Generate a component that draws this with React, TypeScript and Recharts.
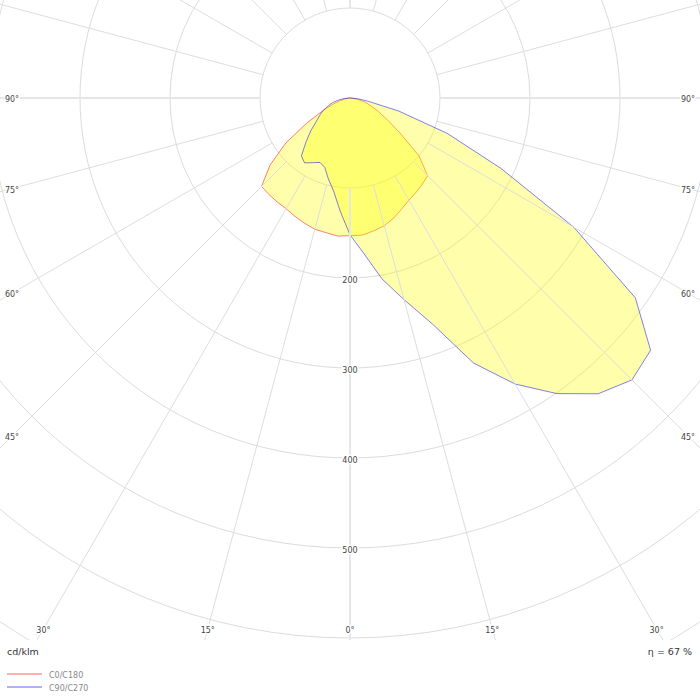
import React from 'react';
import { RadarChart, Radar, PolarGrid, PolarAngleAxis, PolarRadiusAxis } from 'recharts';

// gamma angle (0 = straight down, 90 = horizontal right, 180 = up, 270 = horizontal left)
const gammaAngles = [
  0, 5, 10, 15, 20, 25, 30, 35, 40, 45, 50, 55, 60, 65, 70, 75, 80, 85,
  90, 95, 100, 105, 110, 115, 120, 125, 130, 135, 140, 145, 150, 155, 160, 165, 170, 175,
  180, 185, 190, 195, 200, 205, 210, 215, 220, 225, 230, 235, 240, 245, 250, 255, 260, 265,
  270, 275, 280, 285, 290, 295, 300, 305, 310, 315, 320, 325, 330, 335, 340, 345, 350, 355,
];

// C0/C180 plane, cd/klm
const c0c180 = [
  153, 153, 150, 147, 142, 136, 131, 128, 125, 122, 100, 68, 47, 34, 24, 17, 9, 3,
  0, 0, 0, 0, 0, 0, 0, 0, 0, 0, 0, 0, 0, 0, 0, 0, 0, 0,
  0, 0, 0, 0, 0, 0, 0, 0, 0, 0, 0, 0, 0, 0, 0, 0, 0, 0,
  0, 2, 5, 11, 20, 33, 55, 87, 116, 139, 140, 141, 142, 145, 148, 151, 152, 154,
];

// C90/C270 plane, cd/klm
const c90c270 = [
  152, 173, 204, 232, 267, 325, 367, 401, 429, 443, 436, 387, 287, 185, 115, 56, 20, 8,
  0, 0, 0, 0, 0, 0, 0, 0, 0, 0, 0, 0, 0, 0, 0, 0, 0, 0,
  0, 0, 0, 0, 0, 0, 0, 0, 0, 0, 0, 0, 0, 0, 0, 0, 0, 0,
  0, 6, 13, 20, 26, 33, 39, 46, 57, 69, 84, 88, 83, 79, 82, 93, 105, 126,
];

const gridAngles = [0, 15, 30, 45, 60, 75, 90, 105, 120, 135, 150, 165, 180, 195, 210, 225, 240, 255, 270, 285, 300, 315, 330, 345];
const radiusTicks = [100, 200, 300, 400, 500, 600, 700, 800];
const radiusLabels = [200, 300, 400, 500];
const radiusMax = 800;
const seriesNames = ['C0/C180', 'C90/C270'];
const unitText = 'cd/klm';
const efficiencyText = 'η = 67 %';

const data = gammaAngles.map((angle, i) => ({ angle, c0: c0c180[i], c90: c90c270[i] }));

const W = 700;
const H = 640;
const CX = 350;
const CY = 98;
const OUTER = 720;
const INNER = (OUTER * radiusTicks[0]) / radiusMax;
const LABEL_LEFT = 12;
const LABEL_RIGHT = 688;
const LABEL_BOTTOM = 629;
const FONT = '"DejaVu Sans", Verdana, sans-serif';

const AngleTick = (props: any) => {
  const { x, y, payload } = props;
  const v = Number(payload && payload.value);
  if (!gridAngles.includes(v)) return <g />;
  const dx0 = x - CX;
  const dy0 = y - CY;
  const len = Math.hypot(dx0, dy0) || 1;
  const ux = dx0 / len;
  const uy = dy0 / len;
  const major = v % 90 === 0;
  const deg = v <= 180 ? v : 360 - v;
  let label: React.ReactNode = null;
  if (deg <= 90) {
    let t = Infinity;
    if (ux < -1e-6) t = Math.min(t, (LABEL_LEFT - CX) / ux);
    if (ux > 1e-6) t = Math.min(t, (LABEL_RIGHT - CX) / ux);
    if (uy > 1e-6) t = Math.min(t, (LABEL_BOTTOM - CY) / uy);
    const lx = CX + ux * t;
    const ly = CY + uy * t;
    label = (
      <text
        x={lx}
        y={ly + 1.5}
        textAnchor="middle"
        dominantBaseline="central"
        fontSize={8}
        fontFamily={FONT}
        fill="#444"
        stroke="#fff"
        strokeWidth={3}
        paintOrder="stroke"
      >
        {deg}°
      </text>
    );
  }
  return (
    <g>
      <line
        x1={CX + ux * INNER}
        y1={CY + uy * INNER}
        x2={CX + ux * 1200}
        y2={CY + uy * 1200}
        stroke={major ? '#e6e6e6' : '#dddddd'}
        strokeWidth={major ? 2 : 1}
      />
      {label}
    </g>
  );
};

const RadiusTick = (props: any) => {
  const { x, y, payload } = props;
  const v = Number(payload && payload.value);
  if (!radiusLabels.includes(v)) return <g />;
  return (
    <text
      x={x}
      y={y + 2}
      textAnchor="middle"
      dominantBaseline="central"
      fontSize={8}
      fontFamily={FONT}
      fill="#444"
      stroke="#fff"
      strokeWidth={3}
      paintOrder="stroke"
    >
      {v}
    </text>
  );
};

export default function App() {
  return (
    <div style={{ position: 'absolute', left: 0, top: 0, width: 700, height: 700, background: '#fff' }}>
      <RadarChart
        width={W}
        height={H}
        cx={CX}
        cy={CY}
        outerRadius={OUTER}
        startAngle={-90}
        endAngle={270}
        data={data}
        margin={{ top: 0, right: 0, bottom: 0, left: 0 }}
      >
        <PolarGrid gridType="circle" radialLines={false} stroke="#dcdcdc" strokeWidth={1} />
        <PolarAngleAxis
          dataKey="angle"
          type="number"
          domain={[0, 360]}
          ticks={gridAngles}
          axisLine={false}
          tickLine={false}
          tick={AngleTick}
        />
        <PolarRadiusAxis
          angle={-90}
          type="number"
          domain={[0, radiusMax]}
          ticks={radiusTicks}
          axisLine={false}
          tick={RadiusTick}
        />
        <Radar
          name={seriesNames[0]}
          dataKey="c0"
          stroke="#ff0000"
          strokeOpacity={0.5}
          strokeWidth={1}
          strokeLinejoin="miter"
          strokeMiterlimit={1}
          fill="#ffff00"
          fillOpacity={0.33}
          dot={false}
          activeDot={false}
          legendType="none"
          isAnimationActive={false}
        />
        <Radar
          name={seriesNames[1]}
          dataKey="c90"
          stroke="#0000ff"
          strokeOpacity={0.5}
          strokeWidth={1}
          strokeLinejoin="miter"
          strokeMiterlimit={1}
          fill="#ffff00"
          fillOpacity={0.33}
          dot={false}
          activeDot={false}
          legendType="none"
          isAnimationActive={false}
        />
      </RadarChart>
      <svg width={700} height={60} style={{ position: 'absolute', left: 0, top: 640 }}>
        <text x={7} y={15} fontSize={9.5} fontFamily={FONT} fill="#333">
          {unitText}
        </text>
        <text x={692} y={15} textAnchor="end" fontSize={9.5} fontFamily={FONT} fill="#333">
          {efficiencyText}
        </text>
        <line x1={7} y1={34} x2={42} y2={34} stroke="#ffb0b0" strokeWidth={2} />
        <text x={49} y={38} fontSize={8} fontFamily={FONT} fill="#888">
          {seriesNames[0]}
        </text>
        <line x1={7} y1={47} x2={42} y2={47} stroke="#b0b0ff" strokeWidth={2} />
        <text x={49} y={51} fontSize={8} fontFamily={FONT} fill="#888">
          {seriesNames[1]}
        </text>
      </svg>
    </div>
  );
}
